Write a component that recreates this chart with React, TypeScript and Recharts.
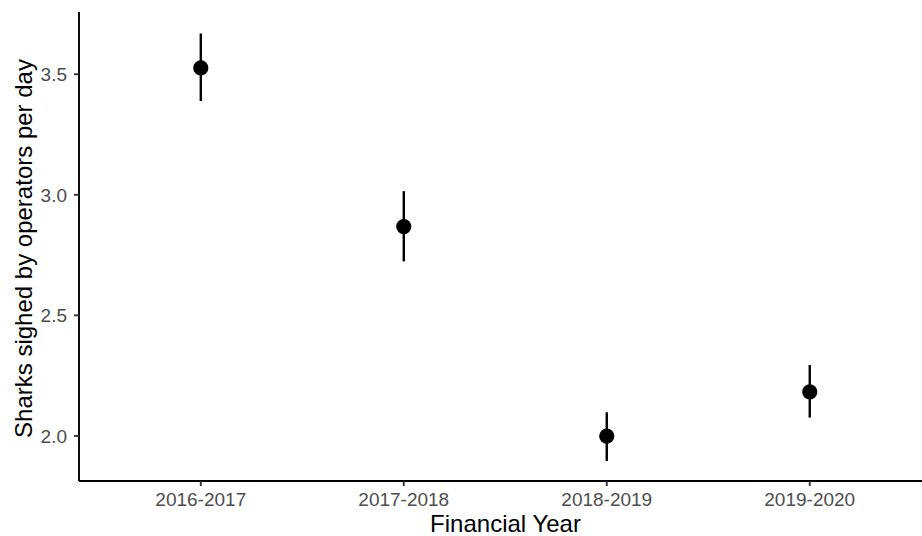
import React from "react";
import {
  ComposedChart,
  Scatter,
  ErrorBar,
  XAxis,
  YAxis,
} from "recharts";

const years = ["2016-2017", "2017-2018", "2018-2019", "2019-2020"];
const means = [3.526, 2.868, 1.999, 2.183];
const lower = [3.389, 2.724, 1.896, 2.076];
const upper = [3.669, 3.015, 2.098, 2.294];
const yTicks = [2.0, 2.5, 3.0, 3.5];

const FONT = "'Liberation Sans', Arial, Helvetica, sans-serif";

const rows = years.map((year, i) => ({
  x: i + 1,
  year,
  mean: means[i],
  err: [means[i] - lower[i], upper[i] - means[i]],
}));

const Dot = (props: { cx?: number; cy?: number }) => {
  const { cx, cy } = props;
  if (cx == null || cy == null) return null;
  return <circle cx={cx} cy={cy} r={7.6} fill="#000" />;
};

const XTitle = (props: any) => {
  const vb = props.viewBox || { x: 0, y: 0, width: 0, height: 0 };
  return (
    <text
      x={vb.x + vb.width / 2 + 5}
      y={vb.y + 51}
      textAnchor="middle"
      fontSize={24}
      fontFamily={FONT}
      fill="#000"
    >
      Financial Year
    </text>
  );
};

const YTitle = (props: any) => {
  const vb = props.viewBox || { x: 0, y: 0, width: 0, height: 0 };
  const x = vb.x + 31.5;
  const y = vb.y + vb.height / 2 + 2;
  return (
    <text
      x={x}
      y={y}
      textAnchor="middle"
      fontSize={24}
      fontFamily={FONT}
      fill="#000"
      transform={`rotate(-90, ${x}, ${y})`}
    >
      Sharks sighed by operators per day
    </text>
  );
};

export default function App() {
  return (
    <div style={{ position: "absolute", left: 0, top: 0, background: "#fff" }}>
      <ComposedChart
        width={922}
        height={536}
        data={rows}
        margin={{ top: 12, right: 0, bottom: 0, left: 0 }}
      >
        <XAxis
          dataKey="x"
          type="number"
          domain={[0.4, 4.553]}
          allowDataOverflow
          ticks={[1, 2, 3, 4]}
          tickFormatter={(v) => years[v - 1] ?? ""}
          height={55}
          axisLine={{ stroke: "#000", strokeWidth: 1.9 }}
          tickLine={{ stroke: "#333", strokeWidth: 1.9 }}
          tickSize={5}
          tickMargin={7}
          tick={{ fill: "#4d4d4d", fontSize: 19, fontFamily: FONT }}
          label={<XTitle />}
        />
        <YAxis
          type="number"
          domain={[1.813, 3.758]}
          allowDataOverflow
          ticks={yTicks}
          tickFormatter={(v) => v.toFixed(1)}
          width={79}
          axisLine={{ stroke: "#000", strokeWidth: 1.9 }}
          tickLine={{ stroke: "#333", strokeWidth: 1.9 }}
          tickSize={5}
          tickMargin={7}
          tick={{ fill: "#4d4d4d", fontSize: 19, fontFamily: FONT }}
          label={<YTitle />}
        />
        <Scatter
          dataKey="mean"
          fill="#000"
          shape={<Dot />}
          isAnimationActive={false}
        >
          <ErrorBar
            dataKey="err"
            direction="y"
            width={0}
            stroke="#000"
            strokeWidth={2.4}
            isAnimationActive={false}
          />
        </Scatter>
      </ComposedChart>
    </div>
  );
}
